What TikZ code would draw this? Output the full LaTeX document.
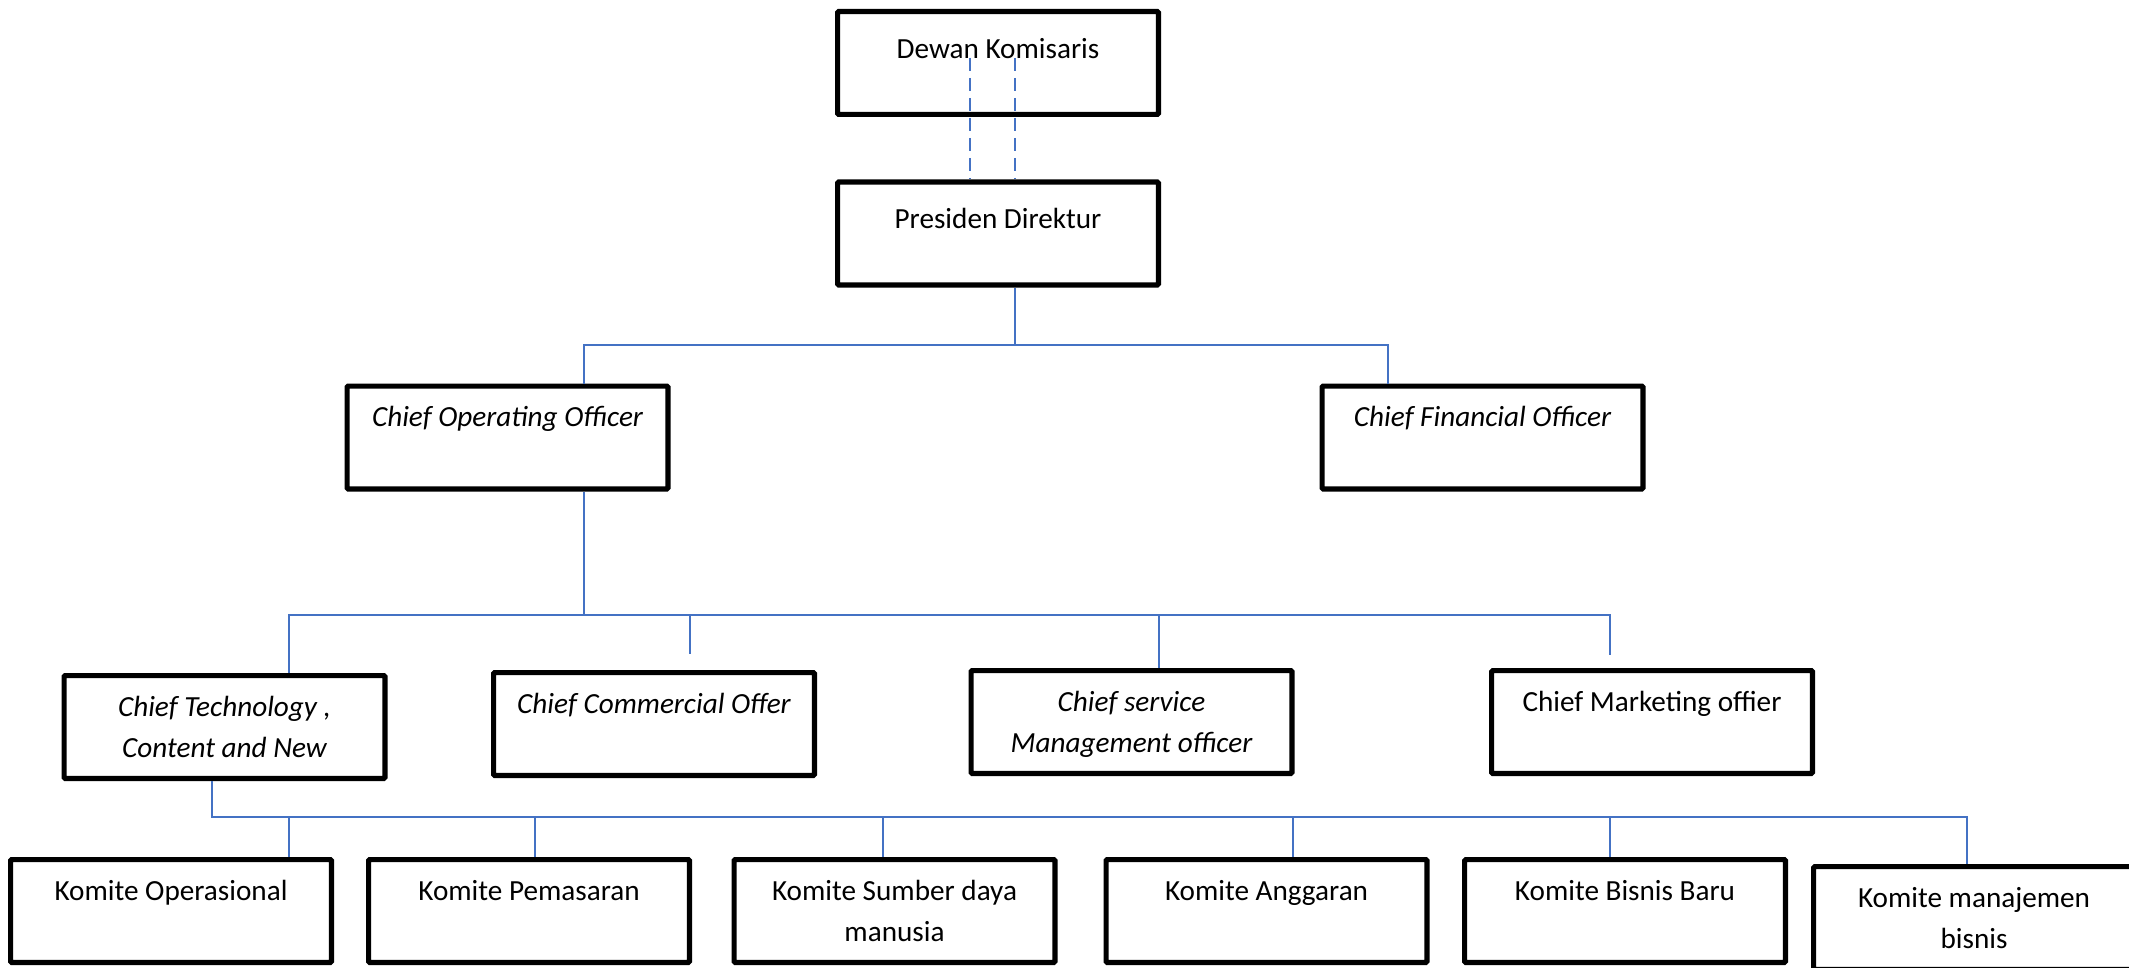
\documentclass[tikz,border=0pt]{standalone}
\usepackage{fontspec}
\setmainfont{Carlito}
\definecolor{connc}{HTML}{4472C4}
\begin{document}
\begin{tikzpicture}[x=0.5pt,y=-0.5pt,
  box/.style={draw=black, line width=2.6pt, rounded corners=0.6pt, minimum width=160.4pt, minimum height=51.4pt, inner sep=0pt},
  txt/.style={anchor=north, yshift=-7pt, inner sep=0pt, align=center,
    font=\fontsize{14.6}{20.5}\selectfont, execute at begin node=\strut},
  txti/.style={txt, font=\fontsize{14.6}{20.5}\selectfont\itshape},
  conn/.style={draw=connc, line width=1pt},
  dashconn/.style={conn, dash pattern=on 6.5pt off 3.5pt}]
\clip (0,0) rectangle (2129,968);
% top
\node[box, label={[txt,yshift=-3pt]north:Dewan Komisaris}] (dewan) at (998,63) {};
\node[box, label={[txt,yshift=-3pt]north:Presiden Direktur}] (pres) at (998,233.5) {};
% level 1
\node[box, label={[txti]north:Chief Operating Officer}] (coo) at (507.5,437.5) {};
\node[box, label={[txti]north:Chief Financial Officer}] (cfo) at (1482.5,437.5) {};
% level 2
\node[box, label={[txti]north:{\strut Chief Technology ,\\Content and New}}] (cto) at (224.5,727) {};
\node[box, label={[txti]north:Chief Commercial Offer}] (cco) at (654,724) {};
\node[box, label={[txti]north:{\strut Chief service\\Management officer}}] (csmo) at (1131.5,722) {};
\node[box, label={[txt]north:Chief Marketing offier}] (cmo) at (1652,722) {};
% level 3
\node[box, label={[txt]north:Komite Operasional}] (kop) at (171,911) {};
\node[box, label={[txt]north:Komite Pemasaran}] (pem) at (529,911) {};
\node[box, label={[txt]north:{\strut Komite Sumber daya\\manusia}}] (sdm) at (894.5,911) {};
\node[box, label={[txt]north:Komite Anggaran}] (ang) at (1266.5,911) {};
\node[box, label={[txt]north:Komite Bisnis Baru}] (bis) at (1625,911) {};
\node[box, label={[txt]north:{\strut Komite manajemen\\bisnis}}] (man) at (1974,918) {};
% dashed links
\coordinate (d1) at (970,58);
\coordinate (d2) at (1015,58);
\draw[dashconn] (d1) -- (d1 |- pres.north);
\draw[dashconn] (d2) -- (d2 |- pres.north);
% bus 1
\coordinate (b1) at (1015,345);
\draw[conn] (pres.south -| b1) -- (b1);
\draw[conn] ([xshift=38.25pt]coo.north) |- (b1) -| ([xshift=-47.25pt]cfo.north);
% bus 2
\coordinate (b2) at (584,615);
\coordinate (ccoend) at (690,654);
\coordinate (cmoend) at (1610,655);
\draw[conn] (coo.south -| b2) -- (b2);
\draw[conn] ([xshift=32.25pt]cto.north) |- (cmoend |- b2) -- (cmoend);
\draw[conn] (ccoend |- b2) -- (ccoend);
\draw[conn] ([xshift=13.75pt]csmo.north) -- ([xshift=13.75pt]csmo.north |- b2);
% bus 3
\coordinate (b3) at (212,817);
\draw[conn] (cto.south -| b3) -- (b3) -| ([xshift=-3.5pt]man.north);
\draw[conn] ([xshift=59pt]kop.north) -- ([xshift=59pt]kop.north |- b3);
\draw[conn] ([xshift=3pt]pem.north) -- ([xshift=3pt]pem.north |- b3);
\draw[conn] ([xshift=-5.75pt]sdm.north) -- ([xshift=-5.75pt]sdm.north |- b3);
\draw[conn] ([xshift=13.25pt]ang.north) -- ([xshift=13.25pt]ang.north |- b3);
\draw[conn] ([xshift=-7.5pt]bis.north) -- ([xshift=-7.5pt]bis.north |- b3);
\end{tikzpicture}
\end{document}
